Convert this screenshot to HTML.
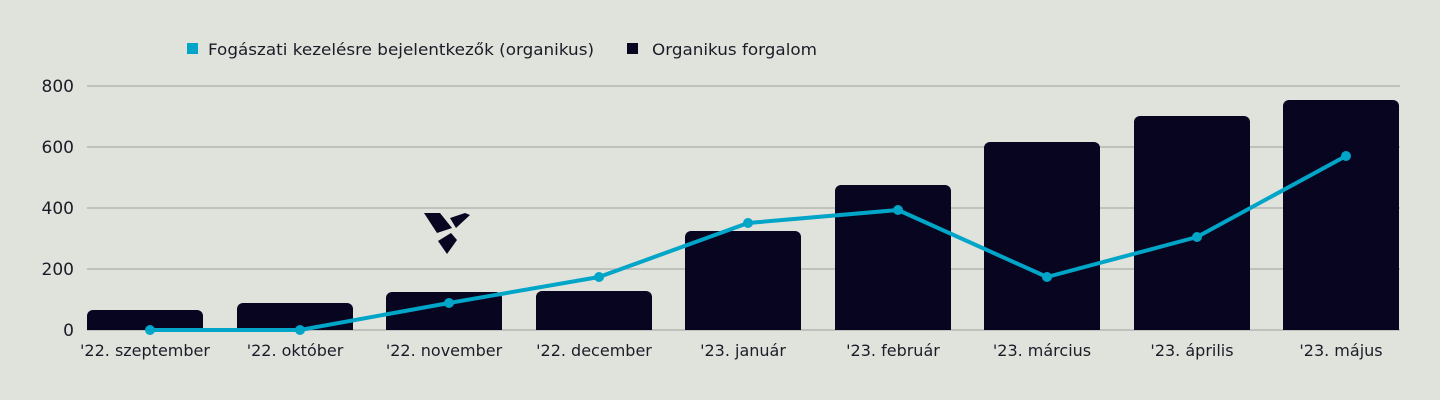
<!DOCTYPE html>
<html><head><meta charset="utf-8"><style>
html,body{margin:0;padding:0;background:#e0e2dc;}
svg{display:block;font-family:"DejaVu Sans","Liberation Sans",sans-serif;}
</style></head><body>
<svg width="1440" height="400" viewBox="0 0 1440 400">
<rect width="1440" height="400" fill="#e0e2dc"/>
<g stroke="#b4b6b2" stroke-width="1.5">
<line x1="87" x2="1400" y1="86" y2="86"/>
<line x1="87" x2="1400" y1="147" y2="147"/>
<line x1="87" x2="1400" y1="208" y2="208"/>
<line x1="87" x2="1400" y1="269" y2="269"/>
<line x1="87" x2="1400" y1="330" y2="330"/>
</g>
<g fill="#1c1c28" font-size="17" text-anchor="end">
<text x="74" y="92">800</text><text x="74" y="153">600</text><text x="74" y="214">400</text><text x="74" y="275">200</text><text x="74" y="336">0</text>
</g>
<g fill="#07051f">
<path d="M87,330V316a6,6 0 0 1 6,-6H197a6,6 0 0 1 6,6V330Z"/>
<path d="M237,330V309a6,6 0 0 1 6,-6H347a6,6 0 0 1 6,6V330Z"/>
<path d="M386,330V298a6,6 0 0 1 6,-6H496a6,6 0 0 1 6,6V330Z"/>
<path d="M536,330V297a6,6 0 0 1 6,-6H646a6,6 0 0 1 6,6V330Z"/>
<path d="M685,330V237a6,6 0 0 1 6,-6H795a6,6 0 0 1 6,6V330Z"/>
<path d="M835,330V191a6,6 0 0 1 6,-6H945a6,6 0 0 1 6,6V330Z"/>
<path d="M984,330V148a6,6 0 0 1 6,-6H1094a6,6 0 0 1 6,6V330Z"/>
<path d="M1134,330V122a6,6 0 0 1 6,-6H1244a6,6 0 0 1 6,6V330Z"/>
<path d="M1283,330V106a6,6 0 0 1 6,-6H1393a6,6 0 0 1 6,6V330Z"/>
</g>
<polyline fill="none" stroke="#00a5c8" stroke-width="4" stroke-linejoin="round" points="150,330 300,330 449,303 599,277 748,223 898,210 1047,277 1197,237 1346,156"/>
<g fill="#00a5c8">
<circle cx="150" cy="330" r="5"/><circle cx="300" cy="330" r="5"/><circle cx="449" cy="303" r="5"/><circle cx="599" cy="277" r="5"/><circle cx="748" cy="223" r="5"/><circle cx="898" cy="210" r="5"/><circle cx="1047" cy="277" r="5"/><circle cx="1197" cy="237" r="5"/><circle cx="1346" cy="156" r="5"/>
</g>
<g fill="#07051f">
<polygon points="424,213 440,213 452,228 437,233"/>
<polygon points="438,241 451,233 457,240 447,254"/>
<polygon points="450,218 465,213 470,215 456,228"/>
</g>
<g fill="#1c1c28" font-size="16" text-anchor="middle">
<text x="145" y="356">'22. szeptember</text>
<text x="295" y="356">'22. október</text>
<text x="444" y="356">'22. november</text>
<text x="594" y="356">'22. december</text>
<text x="743" y="356">'23. január</text>
<text x="893" y="356">'23. február</text>
<text x="1042" y="356">'23. március</text>
<text x="1192" y="356">'23. április</text>
<text x="1341" y="356">'23. május</text>
</g>
<rect x="187" y="43" width="11" height="11" fill="#00a5c8"/>
<text x="208" y="55" font-size="16" fill="#1c1c28" textLength="386" lengthAdjust="spacingAndGlyphs">Fogászati kezelésre bejelentkezők (organikus)</text>
<rect x="627" y="43" width="11" height="11" fill="#07051f"/>
<text x="652" y="55" font-size="16" fill="#1c1c28" textLength="165" lengthAdjust="spacingAndGlyphs">Organikus forgalom</text>
</svg>
</body></html>
